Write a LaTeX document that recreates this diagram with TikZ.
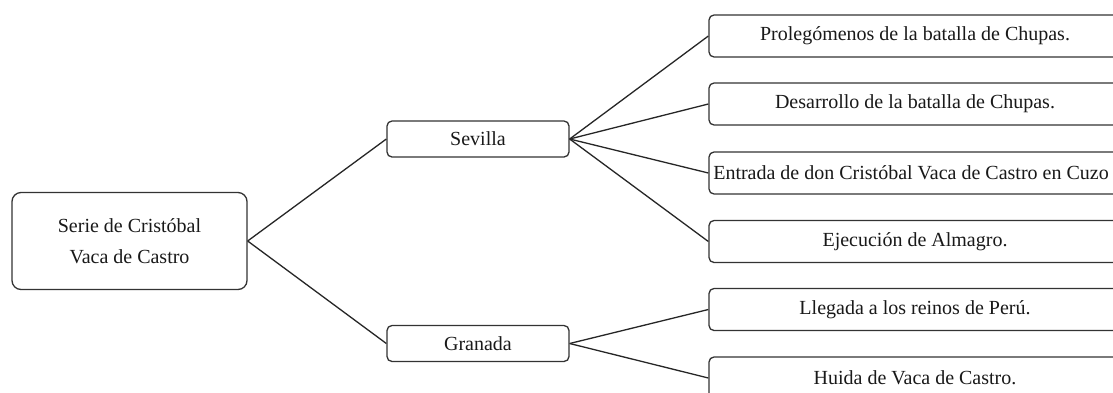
\documentclass[tikz,border=0pt]{standalone}
\usepackage{fontspec}
\setmainfont{Liberation Serif}
\begin{document}
\begin{tikzpicture}[x=1pt,y=-1pt,
  box/.style={draw=black!80, line width=1.3pt, rounded corners=5pt, inner sep=0pt,
    align=center, font=\fontsize{20}{31}\selectfont, text=black!90},
  leaf/.style={box, minimum width=412pt, minimum height=42pt},
  mid/.style={box, minimum width=182pt, minimum height=36pt},
  conn/.style={draw=black!85, line width=1.3pt}]
\useasboundingbox[fill=white] (0,0) rectangle (1113,392);
\node[box, rounded corners=9pt, minimum width=235pt, minimum height=97pt] (root) at (129.5,241) {Serie de Cristóbal\\Vaca de Castro};
\node[mid] (sev) at (478,139) {Sevilla};
\node[mid] (gra) at (478,343.5) {Granada};
\node[leaf] (l1) at (915,36) {Prolegómenos de la batalla de Chupas.};
\node[leaf] (l2) at (915,104) {Desarrollo de la batalla de Chupas.};
\node[leaf] (l3) at (915,173) {\hspace*{-8pt}Entrada de don Cristóbal Vaca de Castro en Cuzo};
\node[leaf] (l4) at (915,241.5) {Ejecución de Almagro.};
\node[leaf] (l5) at (915,309.5) {Llegada a los reinos de Perú.};
\node[leaf] (l6) at (915,378) {Huida de Vaca de Castro.};
\draw[conn] (root.east) -- (sev.west);
\draw[conn] (root.east) -- (gra.west);
\foreach \n in {l1,l2,l3,l4} \draw[conn] (sev.east) -- (\n.west);
\foreach \n in {l5,l6} \draw[conn] (gra.east) -- (\n.west);
\end{tikzpicture}
\end{document}
